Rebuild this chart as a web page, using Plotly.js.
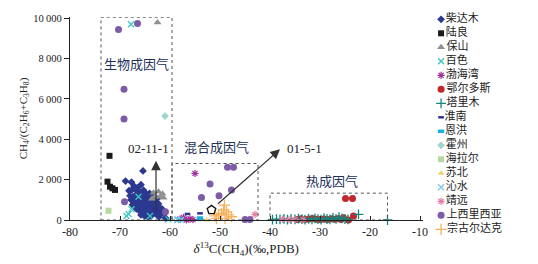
<!DOCTYPE html>
<html><head><meta charset="utf-8">
<script src="https://cdn.plot.ly/plotly-3.0.1.min.js"></script>
<style>html,body{margin:0;padding:0;background:#fff}#c{width:538px;height:264px}</style>
</head><body><div id="c"></div>
<script>
// ---- data ----
const names = ["柴达木","陆良","保山","百色","渤海湾","鄂尔多斯","塔里木","淮南","恩洪","霍州","海拉尔","苏北","沁水","靖远","上西里西亚","宗古尔达克"];

const chaidamuX = [-65.4,-68.9,-67.7,-67.2,-66.5,-65.8,-64.1,-63.5,-68.2,-67.6,-67.0,-66.4,-65.9,-65.3,-64.8,-64.3,-63.8,-63.2,-62.6,-68.0,-67.4,-66.8,-66.2,-65.6,-65.0,-64.5,-64.0,-63.4,-62.9,-62.3,-67.8,-67.2,-66.6,-66.0,-65.5,-64.9,-64.4,-63.9,-63.3,-62.7,-62.1,-61.6,-67.5,-66.9,-66.3,-65.7,-65.2,-64.6,-64.1,-63.6,-63.0,-62.4,-61.9,-66.7,-66.1,-65.5,-64.9,-64.3,-63.7,-63.1,-62.6,-65.8,-65.1,-64.4,-63.8,-62.2,-61.7,-60.9];
const chaidamuY = [2430,1930,1870,1680,1600,1750,1320,1250,1450,1500,1550,1400,1350,1480,1300,1200,1100,1150,1050,1200,1150,1250,1100,1180,1050,1000,950,900,870,800,1000,900,1050,950,850,800,900,700,750,650,600,550,750,800,700,650,600,700,550,500,450,500,400,550,450,500,400,350,300,350,250,250,200,150,200,150,300,100];
const luliangX = [-72.1,-72.5,-72.0,-71.5,-71.0];
const luliangY = [3180,1900,1650,1570,1490];
const baoshanX = [-62.5,-63.3,-62.3,-61.5,-63.0,-62.0,-61.3,-63.6];
const baoshanY = [9790,1350,1400,1300,1150,1150,1100,1050];
const baiseX = [-67.8,-68.7,-68.3,-67.7,-66.3,-64.0,-60.3,-58.4];
const baiseY = [9700,200,300,530,1150,200,30,20];
const bohaiwanX = [-55.0,-58.0,-57.3,-56.7,-56.0,-55.4];
const bohaiwanY = [2310,50,130,0,60,20];
const eerduosiX = [-24.9,-23.5,-23.3,-25.3,-24.3,-31.5,-34.5,-33.8,-33.0,-32.2,-30.8,-30.0,-29.2,-28.5,-27.7,-27.0,-26.3,-25.8];
const eerduosiY = [1070,1070,200,110,0,80,30,60,20,50,40,20,50,30,60,40,80,20];
const talimuX = [-39.5,-38.7,-38.0,-37.2,-36.5,-35.8,-35.0,-34.3,-33.6,-33.0,-32.3,-31.6,-31.0,-30.4,-29.8,-29.2,-28.6,-28.0,-27.4,-26.8,-26.2,-25.6,-25.0,-24.4,-22.3,-16.5];
const talimuY = [20,40,30,60,20,50,30,70,40,20,60,30,80,40,20,90,50,30,110,60,140,80,40,30,280,0];
const huainanX = [-56.5,-54.0,-63.0,-62.4];
const huainanY = [300,330,500,420];
const enhongX = [-54.0,-54.0,-58.0];
const enhongY = [100,30,40];
const huozhouX = [-61.0];
const huozhouY = [5150];
const hailaerX = [-72.3];
const hailaerY = [460];
const subeiX = [-52.7];
const subeiY = [0];
const qinshuiX = [-58.6,-57.8];
const qinshuiY = [10,0];
const jingyuanX = [-43.0,-37.5,-36.2,-35.0,-33.4];
const jingyuanY = [280,40,20,30,20];
const shangxiX = [-70.3,-66.5,-69.2,-69.2,-69.1,-60.9,-48.5,-47.3,-52.0,-53.7,-50.2,-47.7,-45.0,-44.0];
const shangxiY = [9440,9740,6485,5000,900,410,2610,2610,1780,1120,1200,1490,30,30];
const zongguX = [-49.1,-49.3,-50.3,-48.3,-49.0,-47.7,-50.7,-49.7,-48.7,-51.0];
const zongguY = [740,500,250,250,80,160,80,330,400,200];
const refX = [-51.7];
const refY = [500];

const xTicks = [-80,-70,-60,-50,-40,-30,-20,-10];
const xTickText = ["-80","-70","-60","-50","-40","-30","-20","-10"];
const yTicks = [0,2000,4000,6000,8000,10000];
const yTickText = ["0","2\u2009000","4\u2009000","6\u2009000","8\u2009000","10\u2009000"];

// ---- styles ----
const styles = [
  {symbol:"diamond", color:"#2b3990", size:6},
  {symbol:"square", color:"#1a1a1a", size:6},
  {symbol:"triangle-up", color:"#8f8f8f", size:7},
  {symbol:"x-thin-open", color:"#3cc8c0", size:6, lw:1.3},
  {symbol:"asterisk-open", color:"#a0309a", size:6, lw:1.2},
  {symbol:"circle", color:"#c0272d", size:7},
  {symbol:"cross-thin-open", color:"#13877a", size:7, lw:1.3},
  {symbol:"line-ew-open", color:"#2e3192", size:4, lw:2.5},
  {symbol:"line-ew-open", color:"#1cb0e0", size:4.5, lw:3.5},
  {symbol:"diamond", color:"#9fd5cf", size:6},
  {symbol:"square", color:"#b5d9a0", size:6},
  {symbol:"triangle-up", color:"#f2d36b", size:6},
  {symbol:"x-thin-open", color:"#7ec8e8", size:6, lw:1.3},
  {symbol:"asterisk-open", color:"#e87fa8", size:6, lw:1.2},
  {symbol:"circle", color:"#7d5ba6", size:7},
  {symbol:"cross-thin-open", color:"#f5b25c", size:8, lw:1.3}
];
const seriesX = [chaidamuX,luliangX,baoshanX,baiseX,bohaiwanX,eerduosiX,talimuX,huainanX,enhongX,huozhouX,hailaerX,subeiX,qinshuiX,jingyuanX,shangxiX,zongguX];
const seriesY = [chaidamuY,luliangY,baoshanY,baiseY,bohaiwanY,eerduosiY,talimuY,huainanY,enhongY,huozhouY,hailaerY,subeiY,qinshuiY,jingyuanY,shangxiY,zongguY];

function mk(s){
  return {symbol:s.symbol, color:s.color, size:s.size, line:{color:s.color, width: s.lw || 0}};
}

const traces = [];
names.forEach((n,i)=>{
  traces.push({type:"scatter", mode:"markers", x:seriesX[i], y:seriesY[i], name:n,
    marker:mk(styles[i]), cliponaxis:false, showlegend:false, xaxis:"x", yaxis:"y"});
});
traces.push({type:"scatter", mode:"markers", x:refX, y:refY, marker:{symbol:"pentagon-open", size:9, color:"#111", line:{width:1.3, color:"#111"}}, cliponaxis:false, showlegend:false});

// legend drawn on its own small axis
names.forEach((n,i)=>{
  traces.push({type:"scatter", mode:"markers+text", x:[0.5], y:[i], text:[n], textposition:"middle right",
    textfont:{family:"Noto Sans CJK SC", size:11, color:"#222"},
    marker:mk(styles[i]), cliponaxis:false, showlegend:false, xaxis:"x2", yaxis:"y2", hoverinfo:"skip"});
});

const serif = "Liberation Serif, Times New Roman, serif";
const cjk = "Noto Sans CJK SC";
const boxLine = {color:"#555", width:1, dash:"dot"};

const layout = {
  width:538, height:264,
  margin:{l:70, r:0, t:10, b:30},
  paper_bgcolor:"#fff", plot_bgcolor:"rgba(0,0,0,0)",
  showlegend:false,
  xaxis:{domain:[0,0.75321], range:[-80,-9.5], tickvals:xTicks, ticktext:xTickText, ticklabeloverflow:"allow",
    showline:true, linecolor:"#222", linewidth:1.2, ticks:"inside", ticklen:4, tickcolor:"#222",
    showgrid:false, zeroline:false, tickfont:{family:serif, size:12, color:"#222"},
    title:{text:"<i>δ</i><sup>13</sup>C(CH<sub>4</sub>)(‰,PDB)", font:{family:serif, size:13, color:"#222"}, standoff:6}},
  yaxis:{domain:[0.0625,0.96875], range:[0,10060], tickvals:yTicks, ticktext:yTickText,
    showline:true, linecolor:"#222", linewidth:1.2, ticks:"outside", ticklen:5, tickcolor:"#222",
    showgrid:false, zeroline:false, tickfont:{family:serif, size:10.5, color:"#222"},
    title:{text:"CH<sub>4</sub>/(C<sub>2</sub>H<sub>6</sub>+C<sub>3</sub>H<sub>8</sub>)", font:{family:serif, size:11, color:"#222"}, standoff:3}},
  xaxis2:{domain:[0.782,1], range:[0,10], visible:false, anchor:"y2"},
  yaxis2:{domain:[0,1], range:[15.336,-0.664], visible:false, anchor:"x2"},
  shapes:[
    {type:"rect", xref:"x", yref:"y", x0:-73.8, x1:-59.6, y0:0, y1:10050, line:boxLine},
    {type:"rect", xref:"x", yref:"y", x0:-59.6, x1:-42.4, y0:0, y1:2800, line:boxLine},
    {type:"rect", xref:"x", yref:"y", x0:-40, x1:-16.5, y0:0, y1:1330, line:boxLine}
  ],
  annotations:[
    {xref:"x", yref:"y", x:-66.8, y:7770, text:"生物成因气", showarrow:false, font:{family:cjk, size:13, color:"#23305a"}},
    {xref:"x", yref:"y", x:-50.8, y:3630, text:"混合成因气", showarrow:false, font:{family:cjk, size:13, color:"#23305a"}},
    {xref:"x", yref:"y", x:-27.6, y:1980, text:"热成因气", showarrow:false, font:{family:cjk, size:13, color:"#23305a"}},
    {xref:"x", yref:"y", x:-64.4, y:3560, text:"02-11-1", showarrow:false, font:{family:serif, size:13, color:"#222"}},
    {xref:"x", yref:"y", x:-33.1, y:3560, text:"01-5-1", showarrow:false, font:{family:serif, size:13, color:"#222"}},
    {xref:"x", yref:"y", axref:"x", ayref:"y", x:-62.8, y:2935, ax:-62.8, ay:410, text:"", showarrow:true, arrowhead:2, arrowsize:1.6, arrowwidth:1.2, arrowcolor:"#333"},
    {xref:"x", yref:"y", axref:"x", ayref:"y", x:-38, y:3500, ax:-50.7, ay:740, text:"", showarrow:true, arrowhead:2, arrowsize:1.6, arrowwidth:1.2, arrowcolor:"#333"}
  ]
};

Plotly.newPlot("c", traces, layout, {staticPlot:true, displayModeBar:false});
</script></body></html>
